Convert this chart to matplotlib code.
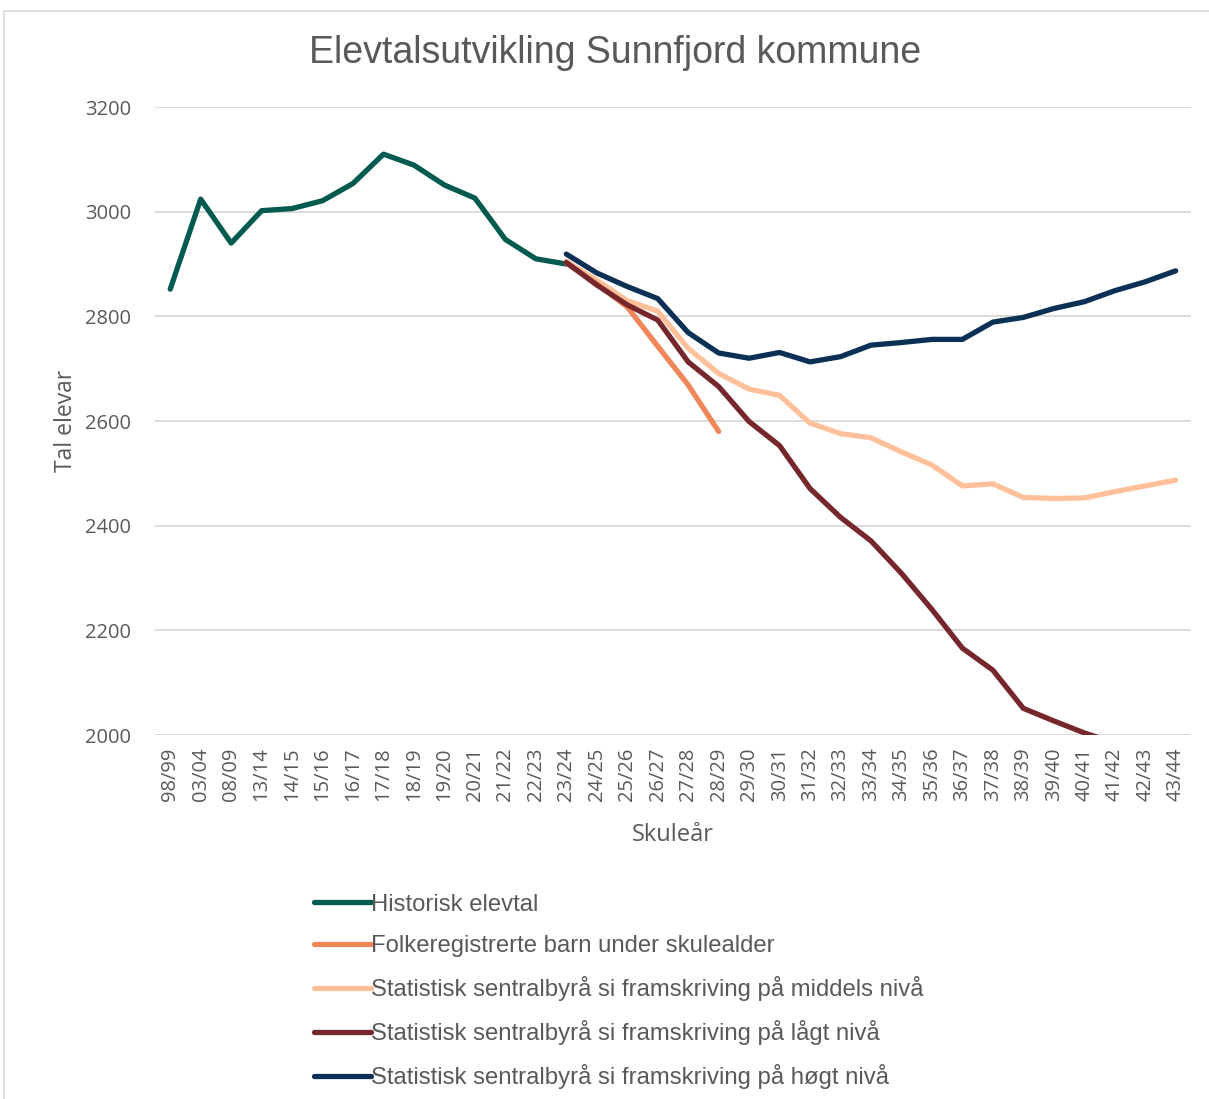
import matplotlib.pyplot as plt
import numpy as np
from matplotlib.patches import Rectangle

# Skuleår (kategoriar)
skulear = ["98/99", "03/04", "08/09", "13/14", "14/15", "15/16", "16/17", "17/18",
           "18/19", "19/20", "20/21", "21/22", "22/23", "23/24", "24/25", "25/26",
           "26/27", "27/28", "28/29", "29/30", "30/31", "31/32", "32/33", "33/34",
           "34/35", "35/36", "36/37", "37/38", "38/39", "39/40", "40/41", "41/42",
           "42/43", "43/44"]

# Historisk elevtal, 98/99 - 23/24
historisk = [2852, 3024, 2940, 3002, 3006, 3021, 3054, 3110, 3089, 3051, 3026,
             2947, 2910, 2900]
# Folkeregistrerte barn, 23/24 - 28/29
folkereg = [2902, 2862, 2818, 2743, 2669, 2580]
# SSB framskriving, 23/24 - 43/44
middels = [2905, 2869, 2830, 2810, 2739, 2691, 2661, 2649, 2596, 2576, 2568,
           2541, 2516, 2476, 2480, 2454, 2452, 2453, 2465, 2476, 2487]
laagt = [2903, 2860, 2822, 2793, 2713, 2666, 2599, 2553, 2471, 2416, 2371,
         2309, 2240, 2166, 2124, 2051, 2027, 2004, 1985, 1960, 1940]
hogt = [2919, 2883, 2857, 2834, 2769, 2730, 2720, 2731, 2713, 2723, 2745,
        2750, 2756, 2756, 2789, 2798, 2815, 2828, 2849, 2866, 2887]

x = np.arange(len(skulear))
start = skulear.index("23/24")
grey = "#595959"

fig = plt.figure(figsize=(12.09, 10.99), dpi=100)
ax = fig.add_axes([0.1282, 0.3312, 0.8568, 0.5714])

lw = 3.8
ax.plot(x[:len(historisk)], historisk, color="#005A4E", lw=lw, solid_capstyle="round",
        label="Historisk elevtal", zorder=3)
ax.plot(x[start:start + len(folkereg)], folkereg, color="#F0875A", lw=lw,
        solid_capstyle="round", label="Folkeregistrerte barn under skulealder", zorder=4)
ax.plot(x[start:], middels, color="#FFC09A", lw=lw, solid_capstyle="round",
        label="Statistisk sentralbyrå si framskriving på middels nivå", zorder=3)
ax.plot(x[start:], laagt, color="#76272B", lw=lw, solid_capstyle="round",
        label="Statistisk sentralbyrå si framskriving på lågt nivå", zorder=5)
ax.plot(x[start:], hogt, color="#0A3055", lw=lw, solid_capstyle="round",
        label="Statistisk sentralbyrå si framskriving på høgt nivå", zorder=6)

ax.set_xlim(-0.5, len(skulear) - 0.5)
ax.set_ylim(2000, 3200)
ax.set_yticks(np.arange(2000, 3201, 200))
ax.grid(axis="y", color="#D9D9D9", lw=1.3)
ax.set_axisbelow(True)
for s in ax.spines.values():
    s.set_visible(False)
ax.tick_params(length=0, colors=grey)

ax.set_xticks(x)
ax.set_xticklabels(skulear, rotation=90, family="Open Sans", fontsize=14.5, color=grey)
for t in ax.get_yticklabels():
    t.set_family("Open Sans")
    t.set_fontsize(14.5)
ax.tick_params(axis="x", pad=9)
ax.tick_params(axis="y", pad=17)

ax.set_xlabel("Skuleår", family="Open Sans", fontsize=17, color=grey, labelpad=16)
ax.set_ylabel("Tal elevar", family="Open Sans", fontsize=16.5, color=grey, labelpad=5)

fig.text(0.509, 0.952, "Elevtalsutvikling Sunnfjord kommune", ha="center", va="center",
         family="Liberation Sans", fontsize=27, color=grey)

fig.legend(loc="upper left", bbox_to_anchor=(0.2496, 0.1976), frameon=False,
           prop={"family": "Liberation Sans", "size": 17.2}, labelcolor=grey,
           handlelength=2.4, handletextpad=0.0, labelspacing=0.8, borderpad=0)

fig.patches.append(Rectangle((4 / 1209, -0.1), 1.2, 1.1 - 11 / 1099, transform=fig.transFigure,
                             fill=False, edgecolor="#D9D9D9", lw=1.2))

fig.savefig("out.png", dpi=100)
